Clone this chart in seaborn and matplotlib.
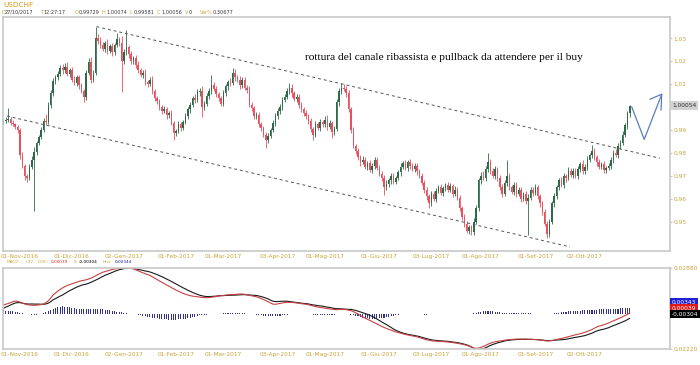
import numpy as np
import pandas as pd
import matplotlib
matplotlib.use("Agg")
import matplotlib.pyplot as plt
import seaborn as sns

# ---------------- data ----------------
first_open = 0.9930
closes = [
    0.9938, 0.9945, 0.9948, 0.9932, 0.9925, 0.9915, 0.9898, 0.9790, 0.9745, 0.9700,
    0.9690, 0.9740, 0.9770, 0.9805, 0.9845, 0.9870, 0.9900, 0.9940, 0.9935, 1.0010,
    1.0060, 1.0115, 1.0130, 1.0145, 1.0170, 1.0160, 1.0175, 1.0145, 1.0160, 1.0120,
    1.0105, 1.0130, 1.0095, 1.0070, 1.0045, 1.0150, 1.0195, 1.0120, 1.0150, 1.0300,
    1.0290, 1.0270, 1.0255, 1.0280, 1.0245, 1.0265, 1.0240, 1.0270, 1.0295, 1.0280,
    1.0200, 1.0240, 1.0260, 1.0230, 1.0200, 1.0215, 1.0185, 1.0160, 1.0140, 1.0150,
    1.0110, 1.0100, 1.0120, 1.0070, 1.0040, 1.0025, 1.0000, 0.9985, 0.9990, 0.9965,
    0.9975, 0.9930, 0.9885, 0.9895, 0.9925, 0.9910, 0.9935, 0.9960, 0.9990, 1.0010,
    1.0040, 1.0030, 1.0065, 1.0070, 1.0000, 1.0015, 1.0050, 1.0070, 1.0095, 1.0080,
    1.0055, 1.0040, 1.0015, 1.0060, 1.0090, 1.0110, 1.0105, 1.0150, 1.0130, 1.0120,
    1.0095, 1.0120, 1.0085, 1.0075, 1.0010, 0.9995, 0.9960, 0.9965, 0.9925, 0.9910,
    0.9880, 0.9855, 0.9875, 0.9900, 0.9930, 0.9960, 0.9985, 1.0000, 1.0030, 1.0045,
    1.0070, 1.0085, 1.0060, 1.0035, 1.0045, 1.0010, 0.9990, 0.9975, 0.9960, 0.9940,
    0.9905, 0.9880, 0.9925, 0.9910, 0.9935, 0.9925, 0.9945, 0.9915, 0.9930, 0.9890,
    0.9905, 1.0020, 1.0070, 1.0085, 1.0080, 1.0060, 0.9990, 0.9900, 0.9830, 0.9810,
    0.9780, 0.9760, 0.9770, 0.9740, 0.9755, 0.9725, 0.9745, 0.9770, 0.9735, 0.9710,
    0.9690, 0.9650, 0.9665, 0.9680, 0.9700, 0.9675, 0.9690, 0.9715, 0.9740, 0.9755,
    0.9735, 0.9760, 0.9745, 0.9730, 0.9745, 0.9720, 0.9700, 0.9670, 0.9640, 0.9610,
    0.9580, 0.9620, 0.9600, 0.9635, 0.9650, 0.9625, 0.9645, 0.9660, 0.9640, 0.9655,
    0.9620, 0.9640, 0.9605, 0.9560, 0.9520, 0.9490, 0.9460, 0.9475, 0.9455, 0.9500,
    0.9560, 0.9680, 0.9700, 0.9690, 0.9730, 0.9760, 0.9720, 0.9700, 0.9730, 0.9690,
    0.9650, 0.9620, 0.9670, 0.9700, 0.9650, 0.9630, 0.9660, 0.9620, 0.9640, 0.9600,
    0.9620, 0.9590, 0.9605, 0.9640, 0.9625, 0.9650, 0.9610, 0.9580, 0.9540, 0.9490,
    0.9445, 0.9500, 0.9580, 0.9610, 0.9650, 0.9680, 0.9660, 0.9700, 0.9690, 0.9720,
    0.9705, 0.9720, 0.9700, 0.9730, 0.9750, 0.9720, 0.9740, 0.9770, 0.9790, 0.9810,
    0.9780, 0.9760, 0.9740, 0.9750, 0.9725, 0.9735, 0.9745, 0.9770, 0.9800, 0.9790,
    0.9830, 0.9845, 0.9880, 0.9920, 0.9973, 1.0006,
]
# wick extension above / below the body, in pips
up_wick_pips = [
    12, 10, 48, 8, 10, 6, 8, 10, 12, 8,
    10, 12, 15, 20, 8, 10, 12, 14, 30, 10,
    15, 12, 10, 14, 12, 18, 17, 20, 10, 15,
    14, 10, 12, 8, 10, 10, 18, 25, 12, 48,
    20, 15, 12, 10, 15, 12, 14, 10, 28, 12,
    30, 15, 76, 12, 15, 10, 12, 15, 10, 12,
    15, 10, 12, 14, 10, 8, 12, 10, 15, 12,
    10, 12, 8, 10, 14, 12, 10, 15, 12, 14,
    10, 15, 12, 14, 20, 10, 12, 15, 45, 15,
    12, 10, 8, 14, 12, 10, 15, 20, 15, 10,
    15, 10, 12, 10, 15, 12, 10, 14, 12, 10,
    8, 10, 12, 10, 12, 14, 10, 12, 15, 12,
    12, 20, 15, 10, 12, 10, 14, 10, 12, 10,
    12, 10, 15, 10, 12, 10, 14, 20, 12, 10,
    12, 15, 12, 20, 15, 12, 15, 10, 12, 10,
    12, 10, 15, 12, 10, 15, 12, 13, 10, 12,
    10, 12, 15, 10, 12, 14, 10, 12, 15, 10,
    12, 10, 15, 12, 10, 12, 10, 14, 12, 10,
    12, 15, 12, 10, 12, 15, 12, 10, 15, 12,
    10, 14, 10, 12, 10, 12, 15, 10, 12, 15,
    12, 10, 15, 20, 14, 40, 12, 15, 12, 10,
    12, 15, 10, 69, 12, 10, 12, 14, 10, 12,
    10, 12, 15, 10, 12, 15, 10, 12, 10, 15,
    15, 12, 10, 15, 12, 10, 14, 12, 10, 20,
    12, 14, 15, 12, 10, 20, 12, 15, 10, 24,
    12, 10, 15, 12, 14, 10, 12, 10, 12, 15,
    12, 10, 15, 12, 10, 2,
]
dn_wick_pips = [
    10, 8, 12, 10, 8, 12, 10, 15, 12, 20,
    15, 10, 12, 225, 15, 12, 10, 8, 12, 10,
    12, 10, 15, 12, 10, 14, 12, 10, 15, 12,
    10, 12, 14, 10, 23, 12, 10, 15, 12, 10,
    15, 12, 10, 14, 12, 10, 15, 12, 10, 12,
    135, 10, 12, 15, 12, 10, 14, 12, 10, 15,
    12, 14, 10, 12, 15, 10, 12, 14, 10, 15,
    12, 10, 29, 12, 10, 15, 12, 10, 12, 15,
    10, 12, 10, 15, 44, 12, 10, 14, 12, 10,
    12, 15, 10, 12, 10, 14, 12, 10, 15, 12,
    14, 10, 12, 15, 10, 12, 14, 10, 12, 15,
    12, 35, 10, 12, 10, 12, 10, 14, 12, 10,
    10, 12, 15, 10, 12, 14, 10, 12, 10, 15,
    12, 24, 10, 12, 15, 10, 12, 14, 10, 25,
    12, 10, 15, 12, 10, 15, 12, 14, 10, 15,
    12, 15, 10, 12, 14, 10, 12, 15, 10, 12,
    14, 34, 10, 12, 15, 10, 12, 10, 14, 12,
    10, 12, 14, 10, 12, 15, 10, 12, 14, 15,
    22, 12, 10, 15, 12, 10, 14, 12, 10, 12,
    14, 10, 12, 15, 12, 14, 10, 15, 15, 12,
    10, 12, 15, 10, 12, 14, 12, 10, 15, 12,
    14, 12, 10, 15, 12, 10, 14, 12, 10, 15,
    12, 14, 149, 12, 15, 10, 12, 14, 12, 10,
    17, 12, 10, 15, 12, 14, 10, 12, 15, 10,
    12, 14, 10, 12, 15, 10, 12, 14, 10, 12,
    10, 15, 12, 10, 14, 12, 10, 15, 12, 10,
    14, 12, 10, 12, 15, 15,
]
# MACD line and histogram, in units of 1e-4
macd_e4 = [
    53, 58, 63, 68, 74, 78, 76, 72, 66, 60,
    56, 53, 52, 51, 52, 54, 56, 60, 68, 80,
    96, 116, 128, 140, 151, 160, 168, 175, 181, 186,
    191, 196, 201, 205, 208, 211, 216, 221, 228, 236,
    244, 251, 258, 263, 267, 271, 275, 278, 281, 284,
    285, 286, 286, 285, 283, 279, 273, 267, 261, 255,
    249, 244, 238, 230, 221, 213, 204, 196, 188, 179,
    171, 163, 155, 147, 140, 133, 126, 121, 116, 112,
    109, 107, 105, 103, 101, 100, 99, 100, 102, 104,
    106, 109, 111, 113, 115, 117, 118, 119, 120, 121,
    122, 122, 120, 117, 114, 111, 108, 105, 100, 94,
    88, 81, 74, 66, 59, 58, 60, 63, 66, 68,
    70, 70, 69, 68, 66, 64, 62, 60, 58, 55,
    51, 47, 44, 40, 38, 36, 33, 31, 29, 27,
    25, 24, 26, 27, 26, 24, 21, 18, 12, 5,
    -3, -12, -21, -29, -36, -43, -50, -58, -65, -73,
    -80, -87, -93, -99, -104, -110, -115, -119, -123, -127,
    -131, -134, -137, -140, -143, -146, -150, -155, -160, -164,
    -167, -170, -172, -173, -174, -175, -176, -177, -178, -180,
    -182, -184, -186, -189, -192, -195, -199, -204, -210, -216,
    -218, -216, -212, -206, -199, -192, -186, -181, -177, -174,
    -172, -170, -167, -165, -163, -162, -161, -160, -160, -160,
    -160, -160, -161, -161, -162, -163, -164, -166, -168, -170,
    -172, -171, -169, -166, -162, -159, -156, -153, -149, -145,
    -141, -137, -133, -130, -126, -122, -118, -112, -106, -100,
    -92, -84, -79, -74, -70, -65, -60, -52, -46, -40,
    -33, -27, -20, -13, -5, 4,
]
hist_e4 = [
    20, 18, 17, 15, 14, 12, 8, 4, 1, -2,
    -4, -6, -8, -8, -7, -5, -2, 2, 8, 15,
    22, 30, 35, 39, 42, 44, 43, 41, 38, 36,
    33, 31, 30, 28, 27, 27, 27, 26, 26, 27,
    28, 27, 26, 24, 22, 20, 18, 15, 12, 10,
    8, 5, 3, 0, -2, -4, -6, -9, -12, -15,
    -17, -20, -22, -25, -28, -31, -33, -35, -36, -37,
    -38, -38, -38, -38, -37, -36, -35, -33, -30, -27,
    -23, -19, -15, -12, -10, -8, -7, -6, -5, -4,
    -3, -2, -1, 1, 2, 3, 4, 4, 5, 5,
    5, 4, 2, 0, -2, -4, -6, -8, -10, -12,
    -14, -16, -17, -18, -18, -17, -15, -13, -11, -9,
    -7, -5, -4, -3, -3, -3, -3, -3, -4, -5,
    -6, -7, -8, -9, -10, -10, -10, -9, -9, -8,
    -7, -6, -4, -3, -2, -3, -5, -8, -11, -14,
    -18, -22, -26, -29, -31, -32, -32, -32, -31, -30,
    -28, -26, -24, -21, -17, -13, -10, -8, -6, -5,
    -5, -4, -4, -5, -5, -5, -6, -6, -7, -7,
    -6, -6, -5, -5, -4, -4, -4, -4, -4, -4,
    -4, -4, -4, -4, -4, -3, -3, -2, -1, 1,
    4, 8, 12, 14, 15, 15, 14, 13, 12, 10,
    8, 6, 5, 4, 4, 3, 3, 3, 2, 2,
    2, 1, 1, 1, 0, 0, -1, -1, -2, -2,
    -3, -2, 0, 2, 4, 6, 8, 10, 12, 13,
    14, 15, 16, 17, 18, 19, 20, 21, 22, 23,
    24, 25, 26, 27, 28, 28, 29, 30, 30, 31,
    31, 32, 32, 33, 33, 34,
]

tick_idx = [7, 29, 51, 73, 93, 116, 136, 159, 181, 202, 225, 246]
tick_labels = ["01-Nov-2016", "01-Dic-2016", "02-Gen-2017", "01-Feb-2017",
               "01-Mar-2017", "03-Apr-2017", "01-Mag-2017", "01-Giu-2017",
               "03-Lug-2017", "01-Ago-2017", "01-Set-2017", "02-Ott-2017"]
price_ticks = [0.95, 0.96, 0.97, 0.98, 0.99, 1.01, 1.02, 1.03]
macd_ticks = [0.0288, -0.0222]
macd_tick_labels = ["0,02880", "0,02220"]

channel_upper_x = [39.4, 277.7]
channel_upper_y = [1.0351, 0.9777]
channel_lower_x = [1.5, 239.7]
channel_lower_y = [0.9961, 0.9390]
forecast_x = [265.8, 271.1, 278.5]
forecast_y = [1.0001, 0.9859, 1.0056]
arrowhead_x = [273.5, 278.5, 278.2]
arrowhead_y = [1.0034, 1.0056, 0.9987]

# ---------------- style ----------------
sns.set_style("white")
plt.rcParams['font.family'] = ['DejaVu Sans']

GOLD = '#c9a53c'
GREEN = '#2f6a48'
RED = '#e8505f'
FRAME = '#c8c8c8'

fig = plt.figure(figsize=(7, 3.65), dpi=100)
W, H = 700.0, 365.0
ax1 = fig.add_axes([2.7 / W, 1 - 251 / H, (670 - 2.7) / W, (251 - 17) / H])
ax2 = fig.add_axes([2.7 / W, 1 - 349 / H, (670 - 2.7) / W, (349 - 267.5) / H])

n = len(closes)
idx = np.arange(n)
c = np.array(closes)
o = np.r_[first_open, c[:-1]]
hi = np.maximum(o, c) + np.array(up_wick_pips) / 1e4
lo = np.minimum(o, c) - np.array(dn_wick_pips) / 1e4
cols = np.where(c >= o, GREEN, RED)

df = pd.DataFrame({"i": idx, "open": o, "close": c, "high": hi, "low": lo,
                   "macd": np.array(macd_e4) / 1e4, "hist": np.array(hist_e4) / 1e4})
df["signal"] = df["macd"] - df["hist"]

# candles
ax1.vlines(df["i"], df["low"], df["high"], colors=cols, lw=0.6)
body = np.maximum(np.abs(df["close"] - df["open"]), 0.00015)
ax1.bar(df["i"], body, bottom=np.minimum(df["open"], df["close"]), width=0.62,
        color=list(cols), linewidth=0)

# channel & forecast
ax1.plot(channel_upper_x, channel_upper_y, color='#555555', lw=0.7, ls=(0, (3, 3)))
ax1.plot(channel_lower_x, channel_lower_y, color='#555555', lw=0.7, ls=(0, (3, 3)))
ax1.plot(forecast_x, forecast_y, color='#5b7cbf', lw=0.9)
ax1.plot(arrowhead_x, arrowhead_y, color='#5b7cbf', lw=0.9)

ax1.set_xlim(-0.3, 282)
ax1.set_ylim(0.9372, 1.0393)

# MACD panel
ax2.bar(df["i"], df["hist"], width=0.45, color='#33338f', linewidth=0)
sns.lineplot(data=df, x="i", y="signal", ax=ax2, color='#1a1a1a', lw=0.8)
sns.lineplot(data=df, x="i", y="macd", ax=ax2, color='#c84040', lw=0.8)
ax2.set_xlim(-0.3, 282)
ax2.set_ylim(-0.0222, 0.0288)

for ax in (ax1, ax2):
    ax.set_xlabel("")
    ax.set_ylabel("")
    for s in ax.spines.values():
        s.set_color(FRAME)
        s.set_linewidth(1.2)
    ax.yaxis.tick_right()
    ax.set_xticks(tick_idx)
    ax.set_xticklabels(tick_labels)
    ax.tick_params(axis='x', length=0, pad=2.0, labelsize=4.2, labelcolor=GOLD)
    ax.tick_params(axis='y', length=1.5, color=FRAME, pad=1.2, labelsize=4.2, labelcolor=GOLD)

ax1.set_yticks(price_ticks)
ax1.set_yticklabels([f"{v:.2f}".replace('.', ',') for v in price_ticks])
ax2.set_yticks(macd_ticks)
ax2.set_yticklabels(macd_tick_labels)

# last value boxes
def box(y_px, text, fc, tc):
    fig.text(672 / W, 1 - y_px / H, text, fontsize=4.2, color=tc, ha='left', va='center',
             bbox=dict(boxstyle='square,pad=0.3', fc=fc, ec='none'))

box(105.5, "1,00054", '#d2d2d2', '#303030')
box(302.0, "0,00343", '#1f1fd8', 'white')
box(308.0, "0,00039", '#e01818', 'white')
box(313.8, "-0,00304", '#000000', 'white')

# headers
def txt(x_px, y_px, s, color, size=3.6, **kw):
    fig.text(x_px / W, 1 - y_px / H, s, fontsize=size, color=color, ha='left', va='center', **kw)

txt(3, 5, "USDCHF", '#d49a1c', size=5.2)
DARK = '#3a3a3a'
hdr = [(1.7, "D", GOLD), (5, "27/10/2017", DARK), (40, "T", GOLD), (44, "12:27:17", DARK),
       (75, "O", GOLD), (79, "0,99729", DARK), (102, "H", GOLD), (106, "1,00074", DARK),
       (130, "L", GOLD), (133.5, "0,99581", DARK), (157, "C", GOLD), (161, "1,00056", DARK),
       (185, "V", GOLD), (189, "0", DARK), (200, "Var%", GOLD), (213, "0,30677", DARK)]
for xp, s, col in hdr:
    txt(xp, 12.5, s, col)

mh = [(7, "MACD", GOLD), (26, "(32 , 200):", GOLD), (51, "0,00039", '#c83030'),
      (74, "S:", GOLD), (79, "-0,00304", '#000000'), (103, "Hist:", GOLD),
      (115, "0,00344", '#2020a0')]
for xp, s, col in mh:
    txt(xp, 262, s, col, size=3.1)

fig.text(305 / W, 1 - 57 / H, "rottura del canale ribassista e pullback da attendere per il buy",
         fontsize=8.2, family='Liberation Serif', color='black', ha='left', va='center')

fig.savefig("out.png", dpi=100, facecolor='white')
